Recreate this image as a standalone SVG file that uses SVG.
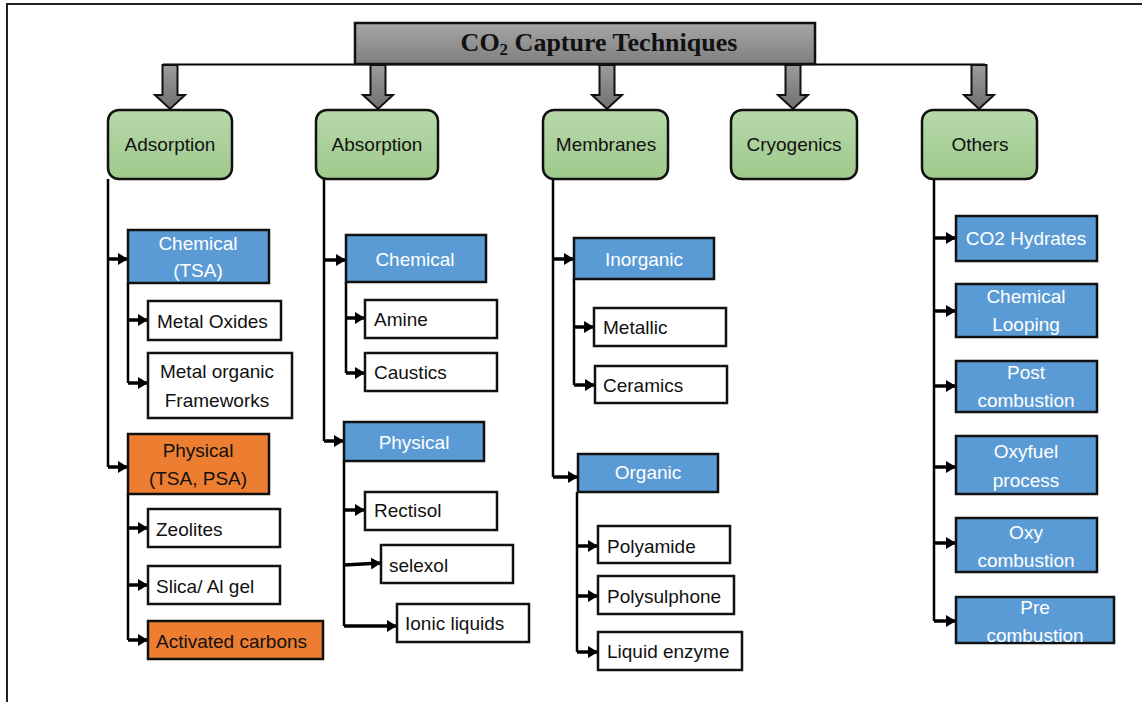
<svg xmlns="http://www.w3.org/2000/svg" width="1142" height="702" viewBox="0 0 1142 702">
<defs>
<linearGradient id="gGray" x1="0" y1="0" x2="0" y2="1"><stop offset="0" stop-color="#a6a6a6"/><stop offset="1" stop-color="#7f7f7f"/></linearGradient>
<linearGradient id="gArrow" x1="0" y1="0" x2="0" y2="1"><stop offset="0" stop-color="#9c9c9c"/><stop offset="1" stop-color="#6f6f6f"/></linearGradient>
<linearGradient id="gGreen" x1="0" y1="0" x2="0" y2="1"><stop offset="0" stop-color="#b7d9aa"/><stop offset="1" stop-color="#9fc98c"/></linearGradient>
<marker id="ah" viewBox="0 0 10 12" refX="10" refY="6" markerWidth="10" markerHeight="12" markerUnits="userSpaceOnUse" orient="auto"><path d="M0,0 L10,6 L0,12 z" fill="#000"/></marker>
<path id="barrow" d="M-7.5,0 H7.5 V30 H15 L0,44 L-15,30 H-7.5 Z"/>
</defs>
<style>
.frame{fill:none;stroke:#222;stroke-width:2}
.title{fill:url(#gGray);stroke:#111;stroke-width:2.5}
.tt{font-family:"Liberation Serif",serif;font-size:26px;font-weight:bold;fill:#111;text-anchor:middle}
.ba{fill:url(#gArrow);stroke:#111;stroke-width:2}
.green{fill:url(#gGreen);stroke:#111;stroke-width:2.5}
.blue{fill:#5b9bd5;stroke:#111;stroke-width:2.5}
.orange{fill:#ed7d31;stroke:#111;stroke-width:2.5}
.white{fill:#fff;stroke:#111;stroke-width:2.5}
text{font-family:"Liberation Sans",Arial,sans-serif;font-size:19px}
.k{fill:#111}
.w{fill:#fff}
.c{text-anchor:middle}
.v{fill:none;stroke:#000;stroke-width:2.5}
.a{fill:none;stroke:#000;stroke-width:3.5;marker-end:url(#ah)}
.hl{fill:none;stroke:#000;stroke-width:2}
</style>
<rect width="1142" height="702" fill="#fff"/>
<path class="frame" d="M1142,4 H7 V702"/>

<g id="connectors">
<path class="hl" d="M163,64.5 H985"/>
<use href="#barrow" class="ba" transform="translate(170,65)"/>
<use href="#barrow" class="ba" transform="translate(378,65)"/>
<use href="#barrow" class="ba" transform="translate(607,65)"/>
<use href="#barrow" class="ba" transform="translate(793,65)"/>
<use href="#barrow" class="ba" transform="translate(979,65)"/>
<path class="v" d="M108,179 V467"/>
<path class="a" d="M108,259 H128"/>
<path class="a" d="M108,467 H128"/>
<path class="v" d="M128,283 V383"/>
<path class="a" d="M128,320 H148"/>
<path class="a" d="M128,383 H148"/>
<path class="v" d="M128,494 V640"/>
<path class="a" d="M128,528 H148"/>
<path class="a" d="M128,585 H148"/>
<path class="a" d="M128,640 H148"/>
<path class="v" d="M324,179 V441"/>
<path class="a" d="M324,260 H346"/>
<path class="a" d="M324,441 H344"/>
<path class="v" d="M346,282 V373"/>
<path class="a" d="M346,318 H365"/>
<path class="a" d="M346,373 H365"/>
<path class="v" d="M344,461 V626"/>
<path class="a" d="M344,510 H365"/>
<path class="a" d="M344,565 L381,563"/>
<path class="a" d="M344,626 H397"/>
<path class="v" d="M553,179 V477"/>
<path class="a" d="M553,259 H574"/>
<path class="a" d="M553,477 H578"/>
<path class="v" d="M574,279 V385"/>
<path class="a" d="M574,327 H594"/>
<path class="a" d="M574,385 H595"/>
<path class="v" d="M577,492 V652"/>
<path class="a" d="M577,546 H598"/>
<path class="a" d="M577,596 H598"/>
<path class="a" d="M577,652 H598"/>
<path class="v" d="M934,179 V621"/>
<path class="a" d="M934,238 H956"/>
<path class="a" d="M934,311 H956"/>
<path class="a" d="M934,386 H956"/>
<path class="a" d="M934,467 H956"/>
<path class="a" d="M934,543 H956"/>
<path class="a" d="M934,621 H956"/>
</g>

<g id="title"><rect class="title" x="355" y="23" width="460" height="41"/><text class="tt" x="599" y="51">CO<tspan font-size="17" dy="4">2</tspan><tspan dy="-4"> Capture Techniques</tspan></text></g>

<g id="adsorption"><rect class="green" x="108" y="110" width="124" height="69" rx="11"/><text class="k c" x="170" y="151">Adsorption</text></g>
<g id="absorption"><rect class="green" x="316" y="110" width="122" height="69" rx="11"/><text class="k c" x="377" y="151">Absorption</text></g>
<g id="membranes"><rect class="green" x="543" y="110" width="125" height="69" rx="11"/><text class="k c" x="606" y="151">Membranes</text></g>
<g id="cryogenics"><rect class="green" x="731" y="110" width="126" height="69" rx="11"/><text class="k c" x="794" y="151">Cryogenics</text></g>
<g id="others"><rect class="green" x="922" y="110" width="115" height="69" rx="11"/><text class="k c" x="980" y="151">Others</text></g>

<g id="ads-chemical"><rect class="blue" x="128" y="230" width="141" height="53"/><text class="w c" x="198" y="250">Chemical</text><text class="w c" x="198" y="277">(TSA)</text></g>
<g id="metal-oxides"><rect class="white" x="148" y="301" width="133" height="39"/><text class="k" x="157" y="328">Metal Oxides</text></g>
<g id="mof"><rect class="white" x="148" y="353" width="144" height="65"/><text class="k c" x="217" y="378">Metal organic</text><text class="k c" x="217" y="407">Frameworks</text></g>
<g id="ads-physical"><rect class="orange" x="128" y="434" width="141" height="60"/><text class="k c" x="198" y="457">Physical</text><text class="k c" x="198" y="485">(TSA, PSA)</text></g>
<g id="zeolites"><rect class="white" x="148" y="509" width="132" height="38"/><text class="k" x="156" y="536">Zeolites</text></g>
<g id="silica"><rect class="white" x="148" y="566" width="132" height="38"/><text class="k" x="156" y="593">Slica/ Al gel</text></g>
<g id="activated"><rect class="orange" x="148" y="621" width="175" height="38"/><text class="k" x="156" y="648">Activated carbons</text></g>

<g id="abs-chemical"><rect class="blue" x="346" y="235" width="140" height="47"/><text class="w c" x="415" y="266">Chemical</text></g>
<g id="amine"><rect class="white" x="365" y="300" width="132" height="38"/><text class="k" x="374" y="326">Amine</text></g>
<g id="caustics"><rect class="white" x="365" y="353" width="132" height="38"/><text class="k" x="374" y="379">Caustics</text></g>
<g id="abs-physical"><rect class="blue" x="344" y="422" width="140" height="39"/><text class="w c" x="414" y="449">Physical</text></g>
<g id="rectisol"><rect class="white" x="365" y="492" width="132" height="38"/><text class="k" x="374" y="517">Rectisol</text></g>
<g id="selexol"><rect class="white" x="381" y="545" width="132" height="38"/><text class="k" x="389" y="572">selexol</text></g>
<g id="ionic"><rect class="white" x="397" y="604" width="132" height="38"/><text class="k" x="405" y="630">Ionic liquids</text></g>

<g id="inorganic"><rect class="blue" x="574" y="238" width="140" height="41"/><text class="w c" x="644" y="266">Inorganic</text></g>
<g id="metallic"><rect class="white" x="594" y="308" width="132" height="38"/><text class="k" x="603" y="334">Metallic</text></g>
<g id="ceramics"><rect class="white" x="595" y="366" width="132" height="37"/><text class="k" x="603" y="392">Ceramics</text></g>
<g id="organic"><rect class="blue" x="578" y="454" width="140" height="38"/><text class="w c" x="648" y="479">Organic</text></g>
<g id="polyamide"><rect class="white" x="598" y="526" width="132" height="37"/><text class="k" x="607" y="553">Polyamide</text></g>
<g id="polysulphone"><rect class="white" x="598" y="576" width="136" height="38"/><text class="k" x="607" y="603">Polysulphone</text></g>
<g id="liquid-enzyme"><rect class="white" x="598" y="632" width="144" height="38"/><text class="k" x="607" y="658">Liquid enzyme</text></g>

<g id="co2-hydrates"><rect class="blue" x="956" y="216" width="141" height="45"/><text class="w c" x="1026" y="245">CO2 Hydrates</text></g>
<g id="chemical-looping"><rect class="blue" x="956" y="284" width="141" height="53"/><text class="w c" x="1026" y="303">Chemical</text><text class="w c" x="1026" y="331">Looping</text></g>
<g id="post-combustion"><rect class="blue" x="956" y="361" width="141" height="51"/><text class="w c" x="1026" y="379">Post</text><text class="w c" x="1026" y="407">combustion</text></g>
<g id="oxyfuel"><rect class="blue" x="956" y="436" width="141" height="58"/><text class="w c" x="1026" y="458">Oxyfuel</text><text class="w c" x="1026" y="487">process</text></g>
<g id="oxy-combustion"><rect class="blue" x="956" y="518" width="141" height="54"/><text class="w c" x="1026" y="539">Oxy</text><text class="w c" x="1026" y="567">combustion</text></g>
<g id="pre-combustion"><rect class="blue" x="956" y="597" width="158" height="46"/><text class="w c" x="1035" y="614">Pre</text><text class="w c" x="1035" y="642">combustion</text></g>
</svg>
